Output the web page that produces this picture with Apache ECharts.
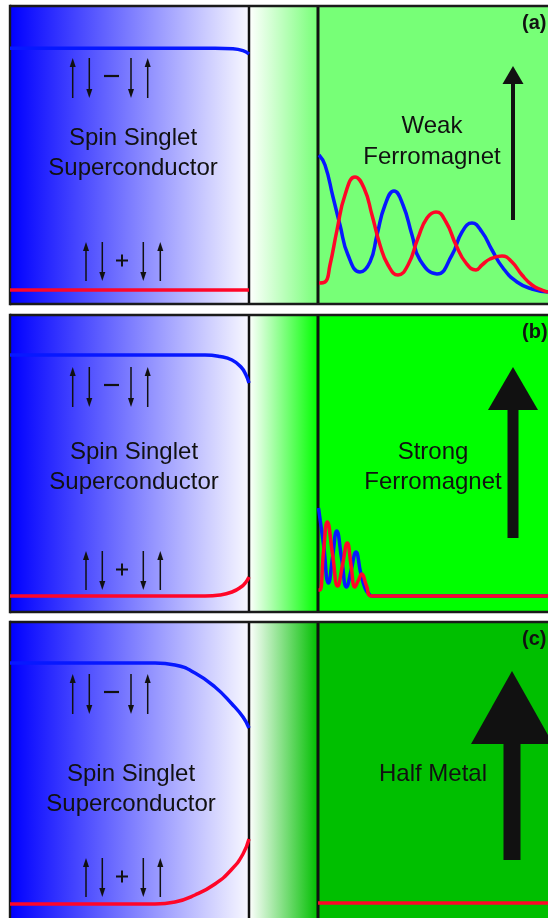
<!DOCTYPE html>
<html><head><meta charset="utf-8">
<script src="https://cdn.jsdelivr.net/npm/echarts@6/dist/echarts.min.js"></script>
<style>html,body{margin:0;padding:0;background:#fff}#c{width:548px;height:918px}</style>
</head><body><div id="c"></div>
<script>
// ---------------- data (x = position, y = amplitude above panel floor) ----------------
const panelLabels = ['(a)', '(b)', '(c)'];
const scLabel = ['Spin Singlet', 'Superconductor'];
const fmLabels = [['Weak', 'Ferromagnet'], ['Strong', 'Ferromagnet'], ['Half Metal']];
const pairSinglet = ['up', 'down', '−', 'down', 'up'];
const pairTriplet = ['up', 'down', '+', 'down', 'up'];

// panel (a): weak ferromagnet
const scSingletA = [[10,255.7],[215,255.7],[233,255.2],[243,253.3],[249,250]];
const scTripletA = [[10,14],[249,14]];
const fmSingletA = [[319,149],[325,139],[333,107],[340,79],[348,49],[360,32],[370,42],[377,69],[385,99],[394,113],[403,99],[412,69],[420,44],[437,30],[452,49],[462,72],[472,81],[482,72],[492,54],[503,36],[517,22],[532,15],[548,12]];
const fmTripletA = [[319,21],[325,22],[330,39],[337,74],[345,109],[355,127],[364,116],[372,89],[380,59],[388,39],[398,29],[408,39],[418,66],[427,86],[436,92],[446,82],[456,59],[466,41],[476,34],[482,39],[490,45],[502,48],[512,42],[522,29],[532,19],[542,14],[548,12]];

// panel (b): strong ferromagnet
const scSingletB = [[10,257],[205,257],[220,255.5],[232,252],[241,245],[246,237],[249,229]];
const scTripletB = [[10,16],[205,16],[220,17],[232,20],[241,25],[246,30],[249,35]];
const fmSingletB = [[318.5,104],[323.5,68],[328.5,29],[332.6,55],[336.7,81],[341.7,53],[346.5,25],[351.2,42],[356,60],[360.5,40],[365,24],[369,18],[372,16],[548,16]];
const fmTripletB = [[318.5,22],[320,22],[323.5,60],[327.3,90],[332.5,58],[337.7,26],[342.5,47],[347.3,69],[351,47],[355,25],[358.5,32],[361.7,38],[366.5,26],[371.7,16],[548,16]];

// panel (c): half metal (floor lies just below the page edge)
const scSingletC = [[10,255],[155,255],[175,253],[195,245],[215,231],[232,214],[243,201],[249,190]];
const scTripletC = [[10,14],[155,14],[175,16],[195,23],[215,34],[232,49],[243,64],[249,79]];
const fmTripletC = [[318,15],[548,15]];

// ---------------- layout & style ----------------
const BLUE = '#0718ff', RED = '#ff0628';
const FONT = '"Liberation Sans", Arial, Helvetica, sans-serif';
const panels = [
  {top:6, height:298, floor:true, fm:'#77ff77', sc:[133,132,162], fmx:432, fmy:[120,151],
   arrow:{x:513, tip:60, base:78, bottom:214, head:10.5, shaft:2},
   curves:[[scSingletA,BLUE],[scTripletA,RED],[fmSingletA,BLUE],[fmTripletA,RED]]},
  {top:315, height:297, floor:true, fm:'#00ff00', sc:[134,137,167], fmx:433, fmy:[137,167],
   arrow:{x:513, tip:52, base:95, bottom:223, head:25, shaft:5.5},
   curves:[[scSingletB,BLUE],[scTripletB,RED],[fmSingletB,BLUE],[fmTripletB,RED]]},
  {top:622, height:296, floor:false, fm:'#00bf00', sc:[131,152,182], fmx:433, fmy:[152],
   arrow:{x:512, tip:49, base:122, bottom:238, head:41, shaft:8.5},
   curves:[[scSingletC,BLUE],[scTripletC,RED],[fmTripletC,RED]]}
];
const X0 = 10, X1 = 548, XI = 249, XF = 318;
const pairXTop = [72.7, 89.3, 111.5, 131, 147.7];
const pairXBot = [86, 102.3, 122, 143.3, 160.3];

function decor(pi) {
  const P = panels[pi];
  return function (params, api) {
    const pt = (x, ry) => api.coord([x, P.height - ry]);
    const ch = [];
    const rect = (x0, x1, fill) => {
      const a = pt(x0, 0), b = pt(x1, P.height);
      return {type:'rect', shape:{x:a[0], y:a[1], width:b[0]-a[0] + (x1 === X1 ? 4 : 0), height:b[1]-a[1] + (P.floor ? 0 : 4)}, style:{fill}};
    };
    const line = (xa, ya, xb, yb, w, c) => {
      const a = pt(xa, ya), b = pt(xb, yb);
      return {type:'line', shape:{x1:a[0], y1:a[1], x2:b[0], y2:b[1]}, style:{stroke:c || '#111', lineWidth:w}};
    };
    const poly = (pts, c) => ({type:'polygon', shape:{points:pts.map(p => pt(p[0], p[1]))}, style:{fill:c || '#111'}});
    const text = (s, x, ry, size, weight, align) => {
      const a = pt(x, ry);
      return {type:'text', style:{text:s, x:a[0], y:a[1], fill:'#111', font:(weight||'normal') + ' ' + size + 'px ' + FONT, align:align||'center', verticalAlign:'middle'}};
    };
    const yEnd = P.height + (P.floor ? 0 : 4);
    // backgrounds
    ch.push(rect(X0, XI, new echarts.graphic.LinearGradient(0,0,1,0,[{offset:0,color:'#0000ff'},{offset:1,color:'#f8f8ff'}])));
    ch.push(rect(XI, XF, new echarts.graphic.LinearGradient(0,0,1,0,[{offset:0,color:'#ffffff'},{offset:1,color:P.fm}])));
    ch.push(rect(XF, X1, P.fm));
    // dividers and frame (right side runs off the page)
    ch.push(line(XI, 0, XI, yEnd, 2.5));
    ch.push(line(XF, 0, XF, yEnd, 3));
    ch.push(line(X0, 0, X1 + 4, 0, 2.4, '#1a1a1a'));
    if (P.floor) ch.push(line(X0, P.height, X1 + 4, P.height, 2.4, '#1a1a1a'));
    ch.push(line(X0, -1.2, X0, yEnd + 1.2, 2.4, '#1a1a1a'));
    // spin pair notation
    const pair = (syms, xs, yTop, yBot) => {
      syms.forEach((s, k) => {
        const x = xs[k];
        if (s === 'up') {
          ch.push(line(x, yBot, x, yTop + 7, 1.5));
          ch.push(poly([[x, yTop], [x - 3, yTop + 9], [x + 3, yTop + 9]]));
        } else if (s === 'down') {
          ch.push(line(x, yTop, x, yBot - 7, 1.5));
          ch.push(poly([[x, yBot], [x - 3, yBot - 9], [x + 3, yBot - 9]]));
        } else if (s === '−') {
          ch.push(line(x - 7.5, (yTop + yBot) / 2 - 2, x + 7.5, (yTop + yBot) / 2 - 2, 2.2));
        } else {
          const cy = (yTop + yBot) / 2 - 1;
          ch.push(line(x - 6, cy, x + 6, cy, 2));
          ch.push(line(x, cy - 6, x, cy + 6, 2));
        }
      });
    };
    pair(pairSinglet, pairXTop, 52, 92);
    pair(pairTriplet, pairXBot, 236, 275);
    // labels
    ch.push(text(scLabel[0], P.sc[0], P.sc[1], 24));
    ch.push(text(scLabel[1], P.sc[0], P.sc[2], 24));
    fmLabels[pi].forEach((s, k) => ch.push(text(s, P.fmx, P.fmy[k], 24)));
    ch.push(text(panelLabels[pi], 522, 17, 20, 'bold', 'left'));
    // magnetization arrow
    const A = P.arrow;
    ch.push(poly([[A.x - A.shaft, A.bottom], [A.x + A.shaft, A.bottom], [A.x + A.shaft, A.base - 1], [A.x - A.shaft, A.base - 1]]));
    ch.push(poly([[A.x, A.tip], [A.x - A.head, A.base], [A.x + A.head, A.base]]));
    return {type:'group', children:ch};
  };
}

const grid = [], xAxis = [], yAxis = [], series = [];
panels.forEach((P, i) => {
  grid.push({left:X0, top:P.top, width:X1 - X0, height:P.height, show:false});
  xAxis.push({type:'value', gridIndex:i, min:X0, max:X1, show:false});
  yAxis.push({type:'value', gridIndex:i, min:0, max:P.height, show:false});
  series.push({type:'custom', xAxisIndex:i, yAxisIndex:i, z:1, silent:true, clip:false, renderItem:decor(i), data:[[X0, 0]]});
  P.curves.forEach(([d, c]) => {
    series.push({type:'line', xAxisIndex:i, yAxisIndex:i, z:3, data:d, showSymbol:false, symbol:'none',
      smooth:0.5, lineStyle:{color:c, width:3.5}, silent:true});
  });
});

const chart = echarts.init(document.getElementById('c'));
chart.setOption({animation:false, backgroundColor:'#ffffff', grid, xAxis, yAxis, series});
</script></body></html>
